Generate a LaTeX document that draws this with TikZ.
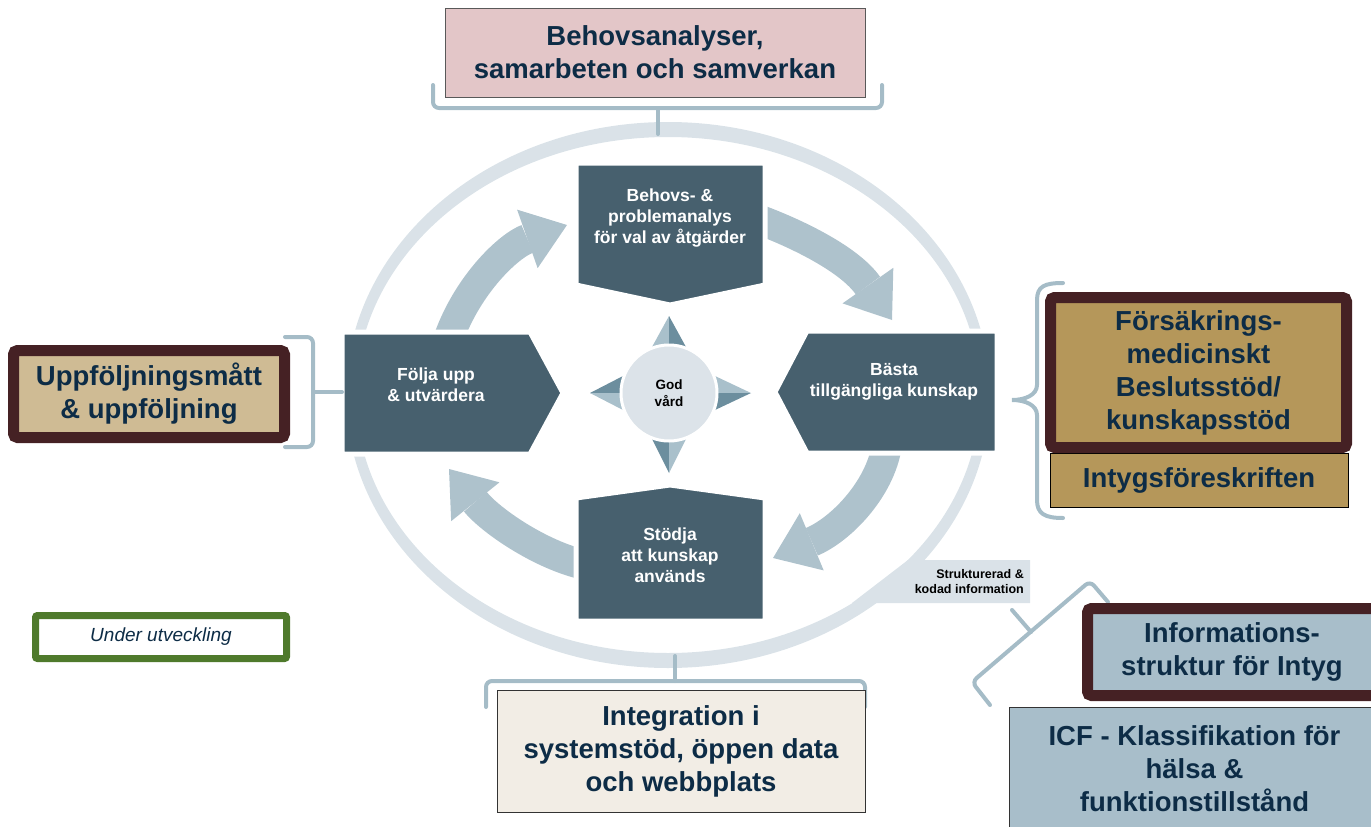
\documentclass[tikz,border=0pt]{standalone}
\usepackage{fontspec}
\setmainfont{Liberation Sans}
\usetikzlibrary{arrows.meta}
\definecolor{slate}{HTML}{47606E}
\definecolor{arrowblue}{HTML}{AEC2CC}
\definecolor{ringgray}{HTML}{DAE2E8}
\definecolor{bracegray}{HTML}{A5BCC7}
\definecolor{navy}{HTML}{0D2C46}
\definecolor{maroon}{HTML}{452124}
\definecolor{tan}{HTML}{CFBB94}
\definecolor{gold}{HTML}{B5975A}
\definecolor{pinkbox}{HTML}{E3C6C8}
\definecolor{cream}{HTML}{F2EDE5}
\definecolor{bluegray}{HTML}{A8BECA}
\definecolor{devgreen}{HTML}{4F7A2C}
\definecolor{tiplight}{HTML}{A9C0CB}
\definecolor{tipdark}{HTML}{6C8E9E}
\definecolor{hubfill}{HTML}{DCE3E9}
\begin{document}
\begin{tikzpicture}[x=1pt,y=-1pt]
	\tikzstyle{stage}=[fill=slate,draw=white,line width=5pt]
	\tikzstyle{stagetext}=[text=white,font=\fontsize{17.5}{21}\selectfont\bfseries,align=center,inner sep=0pt]
	\tikzstyle{turn}=[draw=arrowblue,line width=30pt,-{Triangle[length=42pt,width=62pt,line width=0pt]}]
	\tikzstyle{brace}=[draw=bracegray,line width=4pt,rounded corners=6pt,line cap=round]
	\tikzstyle{bigtext}=[text=navy,font=\fontsize{27.5}{33}\selectfont\bfseries,align=center,inner sep=0pt]
	\tikzstyle{thickframe}=[draw=maroon,line width=11pt,rounded corners=4pt]
	\useasboundingbox (0,0) rectangle (1371,827);
	\clip (0,0) rectangle (1371,827);
	% ring round the cycle
	\fill[ringgray,even odd rule] (668,395) ellipse [x radius=322,y radius=273] (668,395) ellipse [x radius=312,y radius=258];
	\fill[ringgray] (908,560) -- (1030,560) -- (1030,603) -- (852,603) -- cycle;
	\node[anchor=east,align=right,inner sep=0pt,font=\fontsize{12.5}{15}\selectfont\bfseries] (coded) at (1024,582) {Strukturerad \&\\kodad information};
	% curved arrows
	\coordinate (tl0) at (448,340); \coordinate (tl1) at (567,225);
	\coordinate (tr0) at (760,220); \coordinate (tr1) at (892,320);
	\coordinate (br0) at (887,445); \coordinate (br1) at (773,558);
	\coordinate (bl0) at (585,565); \coordinate (bl1) at (449,469);
	\draw[turn] (tl0) .. controls (468,283) and (510,245) .. (tl1);
	\draw[turn] (tr0) .. controls (800,235) and (850,260) .. (tr1);
	\draw[turn] (br0) .. controls (880,490) and (840,530) .. (br1);
	\draw[turn] (bl0) .. controls (540,555) and (490,520) .. (bl1);
	% four stages
	\path[stage] (576,163) -- (765,163) -- (765,285) -- (670,305) -- (576,285) -- cycle;
	\path[stage] (342,332) -- (530,332) -- (563,393) -- (530,454) -- (342,454) -- cycle;
	\path[stage] (807,331) -- (997,331) -- (997,453) -- (807,453) -- (775,392) -- cycle;
	\path[stage] (576,498) -- (670,485) -- (765,498) -- (765,621) -- (576,621) -- cycle;
	\node[stagetext] (analysis) at (670,218) {Behovs- \&\\problemanalys\\för val av åtgärder};
	\node[stagetext] (follow) at (436,385) {Följa upp\\\& utvärdera};
	\node[stagetext] (best) at (894,382) {Bästa\\tillgängliga kunskap};
	\node[stagetext] (use) at (670,555) {Stödja\\att kunskap\\används};
	% hub
	\fill[tiplight] (669,316) -- (652,347) -- (669,347) -- cycle;
	\fill[tipdark] (669,316) -- (686,347) -- (669,347) -- cycle;
	\fill[tiplight] (751,393) -- (715,376) -- (715,393) -- cycle;
	\fill[tipdark] (751,393) -- (715,410) -- (715,393) -- cycle;
	\fill[tipdark] (669,473) -- (652,439) -- (669,439) -- cycle;
	\fill[tiplight] (669,473) -- (686,439) -- (669,439) -- cycle;
	\fill[tipdark] (590,393) -- (623,376) -- (623,393) -- cycle;
	\fill[tiplight] (590,393) -- (623,410) -- (623,393) -- cycle;
	\node[circle,fill=hubfill,draw=white,line width=3pt,minimum size=96pt,inner sep=0pt,align=center,font=\fontsize{13.5}{16.5}\selectfont\bfseries] (hub) at (669,393) {God\\vård};
	% braces
	\draw[brace] (433,85) -- (433,108) -- (882,108) -- (882,85);
	\draw[brace] (658,108) -- (658,134);
	\draw[brace] (285,337) -- (313,337) -- (313,447) -- (285,447);
	\draw[brace] (313,392) -- (342,392);
	\draw[brace,rounded corners=0pt] (1063,283) .. controls (1045,283) and (1037,286) .. (1037,300) -- (1037,385) .. controls (1037,395) and (1025,400) .. (1012,400) .. controls (1025,400) and (1037,405) .. (1037,415) -- (1037,500) .. controls (1037,514) and (1045,518) .. (1063,518);
	\draw[brace] (486,707) -- (486,681) -- (865,681) -- (865,707);
	\draw[brace] (675,681) -- (675,656);
	\draw[brace] (990,705) -- (972,682) -- (1090,581) -- (1108,602);
	\draw[brace] (1031,632) -- (1012,610);
	% boxes round the cycle
	\node[bigtext,fill=pinkbox,draw=black!65,line width=0.8pt,minimum width=420pt,minimum height=89pt] (needs) at (655,52.5) {Behovsanalyser,\\samarbeten och samverkan};
	\node[bigtext,fill=tan,thickframe,minimum width=271pt,minimum height=87pt] (measures) at (149,394) {Uppföljningsmått\\\& uppföljning};
	\node[bigtext,fill=gold,draw=black,line width=0.8pt,minimum width=298pt,minimum height=54pt] (regs) at (1199,480) {Intygsföreskriften};
	\node[bigtext,fill=gold,thickframe,minimum width=296pt,minimum height=150pt] (support) at (1198.5,372.5) {Försäkrings-\\medicinskt\\Beslutsstöd/\\kunskapsstöd};
	\node[bigtext,fill=bluegray,thickframe,minimum width=289pt,minimum height=87pt] (infostruct) at (1232,652) {Informations-\\struktur för Intyg};
	\node[bigtext,fill=bluegray,draw=black!80,line width=0.8pt,minimum width=371pt,minimum height=123pt] (icf) at (1194.5,768.5) {ICF - Klassifikation för\\hälsa \&\\funktionstillstånd};
	\node[bigtext,fill=cream,draw=black!80,line width=0.8pt,minimum width=368pt,minimum height=122pt] (integration) at (681,751) {Integration i\\systemstöd, öppen data\\och webbplats};
	\node[fill=white,draw=devgreen,line width=7pt,rounded corners=2pt,minimum width=251pt,minimum height=43pt,inner sep=0pt,text=navy,font=\fontsize{19}{22}\selectfont\itshape] (dev) at (161,637) {Under utveckling};
\end{tikzpicture}
\end{document}
